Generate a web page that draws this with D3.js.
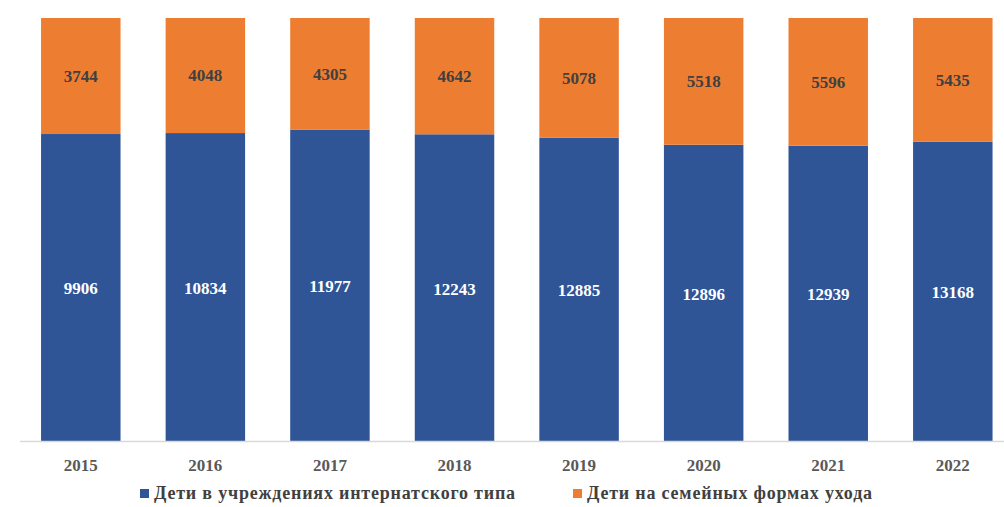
<!DOCTYPE html>
<html><head><meta charset="utf-8">
<script src="https://cdn.jsdelivr.net/npm/d3@7/dist/d3.min.js"></script>
<style>body{margin:0;background:#fff}svg{display:block}
svg text{font-family:"Liberation Serif","Times New Roman","DejaVu Serif",serif;font-weight:bold}</style>
</head><body>
<svg id="c" width="1004" height="507"></svg>
<script>
const years = ["2015","2016","2017","2018","2019","2020","2021","2022"];
const institutional = [9906,10834,11977,12243,12885,12896,12939,13168];
const family = [3744,4048,4305,4642,5078,5518,5596,5435];
const seriesNames = ["Дети в учреждениях интернатского типа","Дети на семейных формах ухода"];
const colors = ["#2F5597","#ED7D31"];

const svg = d3.select("#c");
const x = d3.scaleBand().domain(years).range([20, 1013.6]).paddingInner(0.362).paddingOuter(0.169);
const y = d3.scaleLinear().domain([0,1]).range([441, 18]);

const rows = years.map((yr,i)=>({year:yr, inst:institutional[i]/(institutional[i]+family[i]), fam:family[i]/(institutional[i]+family[i]), vi:institutional[i], vf:family[i]}));
const stack = d3.stack().keys(["inst","fam"])(rows);

stack.forEach((layer,li)=>{
  svg.append("g").selectAll("rect").data(layer).join("rect")
    .attr("x", d=>x(d.data.year)).attr("width", x.bandwidth())
    .attr("y", d=>y(d[1])).attr("height", d=>y(d[0])-y(d[1]))
    .attr("fill", colors[li]);
  svg.append("g").selectAll("text").data(layer).join("text")
    .attr("x", d=>x(d.data.year)+x.bandwidth()/2)
    .attr("y", d=>(y(d[0])+y(d[1]))/2 + (li===0?3:2))
    .attr("text-anchor","middle").attr("dominant-baseline","middle")
    .style("font-size","17px")
    .attr("fill", li===0?"#ffffff":"#404040")
    .text(d=> li===0? d.data.vi : d.data.vf);
});

// axis
svg.append("line").attr("x1",20).attr("x2",1004).attr("y1",441.5).attr("y2",441.5).attr("stroke","#d9d9d9").attr("stroke-width",1.5);
const ax = svg.append("g").attr("transform","translate(0,441)").call(d3.axisBottom(x).tickSize(0).tickPadding(18));
ax.select(".domain").remove();
ax.selectAll("text").style("font-size","17px").attr("fill","#595959");

// legend
const lg = [{x:140, t:seriesNames[0], c:colors[0]},{x:573, t:seriesNames[1], c:colors[1]}];
lg.forEach(l=>{
  svg.append("rect").attr("x",l.x).attr("y",489).attr("width",9).attr("height",9).attr("fill",l.c);
  svg.append("text").attr("x",l.x+14).attr("y",499).style("font-size","18px").attr("fill","#404040").attr("letter-spacing",0.8).text(l.t);
});
</script>
</body></html>
